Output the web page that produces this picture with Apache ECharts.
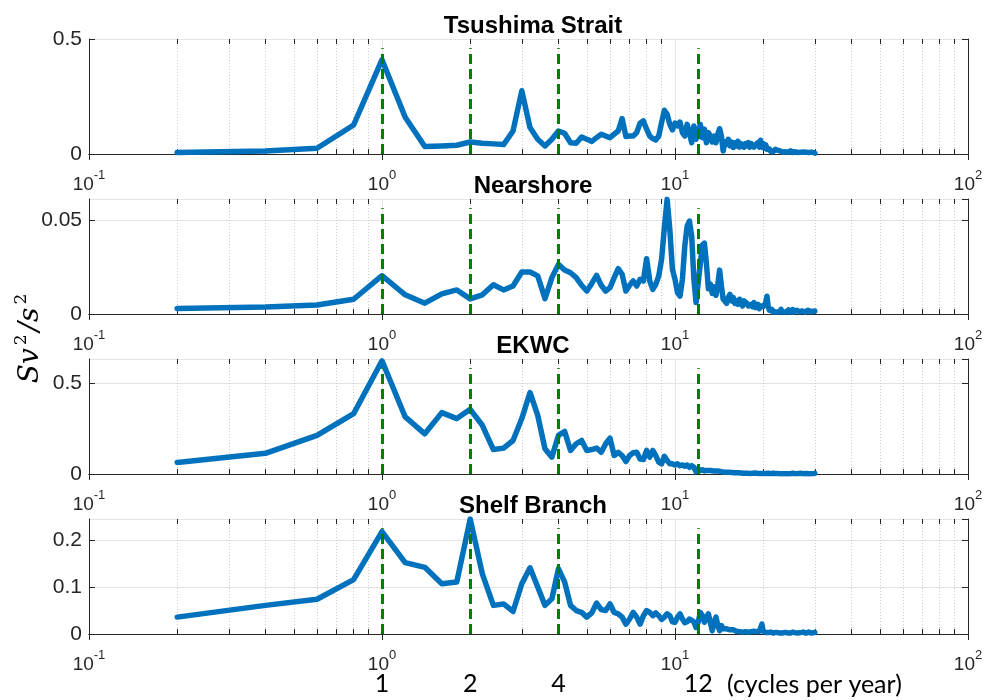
<!DOCTYPE html>
<html>
<head>
<meta charset="utf-8">
<script src="https://cdn.jsdelivr.net/npm/echarts@6/dist/echarts.min.js"></script>
<style>
  html, body { margin: 0; background: #fff; }
  #chart { width: 987px; height: 700px; }
</style>
</head>
<body>
<div id="chart"></div>
<script>
// frequency (cycles per year)
const freq = [
  0.2, 0.4, 0.6, 0.8, 1, 1.2, 1.4, 1.6, 1.8, 2,
  2.2, 2.4, 2.6, 2.8, 3, 3.2, 3.4, 3.6, 3.8, 4,
  4.2, 4.4, 4.6, 4.8, 5, 5.2, 5.4, 5.6, 5.8, 6,
  6.2, 6.4, 6.6, 6.8, 7, 7.2, 7.4, 7.6, 7.8, 8,
  8.2, 8.4, 8.6, 8.8, 9, 9.2, 9.4, 9.6, 9.8, 10,
  10.2, 10.4, 10.6, 10.8, 11, 11.2, 11.4, 11.6, 11.8, 12,
  12.2, 12.4, 12.6, 12.8, 13, 13.2, 13.4, 13.6, 13.8, 14,
  14.2, 14.4, 14.6, 14.8, 15, 15.2, 15.4, 15.6, 15.8, 16,
  16.2, 16.4, 16.6, 16.8, 17, 17.2, 17.4, 17.6, 17.8, 18,
  18.2, 18.4, 18.6, 18.8, 19, 19.2, 19.4, 19.6, 19.8, 20,
  20.2, 20.4, 20.6, 20.8, 21, 21.2, 21.4, 21.6, 21.8, 22,
  22.2, 22.4, 22.6, 22.8, 23, 23.2, 23.4, 23.6, 23.8, 24,
  24.2, 24.4, 24.6, 24.8, 25, 25.2, 25.4, 25.6, 25.8, 26,
  26.2, 26.4, 26.6, 26.8, 27, 27.2, 27.4, 27.6, 27.8, 28,
  28.2, 28.4, 28.6, 28.8, 29, 29.2, 29.4, 29.6, 29.8, 30
];

const tsushima = [
  0.007, 0.013, 0.025, 0.126, 0.41, 0.16, 0.033, 0.035, 0.038, 0.052,
  0.047, 0.044, 0.041, 0.10, 0.275, 0.115, 0.064, 0.035, 0.064, 0.10,
  0.09, 0.049, 0.047, 0.074, 0.064, 0.055, 0.071, 0.086, 0.078, 0.071,
  0.086, 0.10, 0.154, 0.076, 0.078, 0.078, 0.093, 0.134, 0.144, 0.108,
  0.078, 0.067, 0.061, 0.078, 0.137, 0.19, 0.173, 0.129, 0.105, 0.134,
  0.122, 0.139, 0.093, 0.078, 0.129, 0.093, 0.049, 0.122, 0.064, 0.093,
  0.129, 0.071, 0.108, 0.049, 0.093, 0.078, 0.052, 0.078, 0.049, 0.086,
  0.11, 0.078, 0.013, 0.052, 0.042, 0.064, 0.035, 0.052, 0.028, 0.049,
  0.035, 0.055, 0.03, 0.045, 0.05, 0.03, 0.045, 0.035, 0.05, 0.03,
  0.045, 0.052, 0.03, 0.04, 0.035, 0.05, 0.03, 0.06, 0.03, 0.045,
  0.025, 0.04, 0.02, 0.015, 0.022, 0.012, 0.018, 0.01, 0.015, 0.02,
  0.012, 0.016, 0.01, 0.014, 0.012, 0.008, 0.013, 0.01, 0.015, 0.009,
  0.012, 0.008, 0.011, 0.014, 0.009, 0.007, 0.012, 0.01, 0.008, 0.011,
  0.007, 0.01, 0.012, 0.008, 0.006, 0.01, 0.009, 0.007, 0.011, 0.008,
  0.006, 0.009, 0.007, 0.01, 0.006, 0.008, 0.005, 0.007, 0.006, 0.004
];

const nearshore = [
  0.003, 0.0037, 0.0048, 0.0079, 0.0205, 0.0103, 0.0058, 0.0108, 0.0129, 0.0081,
  0.0103, 0.0157, 0.0129, 0.015, 0.0225, 0.0225, 0.0204, 0.0082, 0.0195, 0.0266,
  0.0236, 0.0221, 0.0195, 0.0154, 0.0123, 0.0164, 0.0207, 0.0154, 0.0123, 0.0141,
  0.0195, 0.0243, 0.0213, 0.0123, 0.0154, 0.0177, 0.015, 0.0186, 0.0177, 0.0296,
  0.0177, 0.0132, 0.0159, 0.0204, 0.0293, 0.0463, 0.0614, 0.0454, 0.0239, 0.0186,
  0.0114, 0.0096, 0.0186, 0.0364, 0.0471, 0.0498, 0.0418, 0.0186, 0.0061, 0.0168,
  0.027, 0.037, 0.038, 0.027, 0.0135, 0.016, 0.011, 0.0145, 0.01, 0.016,
  0.0235, 0.015, 0.008, 0.007, 0.0057, 0.0088, 0.0105, 0.007, 0.0088, 0.0057,
  0.007, 0.0052, 0.0079, 0.0057, 0.0043, 0.007, 0.0062, 0.0057, 0.0043, 0.0046,
  0.0052, 0.0039, 0.0061, 0.0034, 0.0043, 0.0052, 0.0029, 0.0043, 0.0035, 0.004,
  0.003, 0.006, 0.0095, 0.004, 0.002, 0.0015, 0.0025, 0.001, 0.002, 0.0012,
  0.0022, 0.001, 0.0018, 0.0012, 0.0025, 0.0012, 0.0018, 0.001, 0.002, 0.0012,
  0.0015, 0.0022, 0.001, 0.0018, 0.0012, 0.0024, 0.001, 0.0016, 0.0012, 0.002,
  0.0011, 0.0018, 0.0012, 0.0022, 0.001, 0.0016, 0.0012, 0.0019, 0.001, 0.0015,
  0.0012, 0.002, 0.001, 0.0016, 0.0012, 0.0018, 0.001, 0.0015, 0.0012, 0.0016
];

const ekwc = [
  0.064, 0.114, 0.213, 0.333, 0.625, 0.315, 0.222, 0.339, 0.306, 0.357,
  0.269, 0.135, 0.143, 0.185, 0.306, 0.45, 0.324, 0.139, 0.093, 0.213,
  0.235, 0.13, 0.167, 0.185, 0.13, 0.135, 0.143, 0.12, 0.167, 0.198,
  0.102, 0.12, 0.102, 0.069, 0.102, 0.117, 0.12, 0.083, 0.08, 0.13,
  0.093, 0.13, 0.102, 0.065, 0.056, 0.098, 0.074, 0.056, 0.056, 0.05,
  0.056, 0.046, 0.05, 0.043, 0.05, 0.037, 0.046, 0.037, 0.013, 0.028,
  0.019, 0.024, 0.017, 0.02, 0.013, 0.019, 0.009, 0.017, 0.013, 0.017,
  0.009, 0.013, 0.006, 0.01, 0.007, 0.009, 0.006, 0.008, 0.005, 0.007,
  0.005, 0.007, 0.004, 0.006, 0.005, 0.004, 0.006, 0.004, 0.005, 0.003,
  0.005, 0.004, 0.003, 0.005, 0.004, 0.003, 0.004, 0.003, 0.005, 0.003,
  0.004, 0.003, 0.002, 0.004, 0.003, 0.002, 0.003, 0.004, 0.002, 0.003,
  0.002, 0.003, 0.004, 0.002, 0.003, 0.002, 0.003, 0.002, 0.004, 0.002,
  0.003, 0.002, 0.003, 0.002, 0.003, 0.004, 0.002, 0.003, 0.002, 0.003,
  0.002, 0.003, 0.002, 0.004, 0.002, 0.003, 0.002, 0.003, 0.002, 0.003,
  0.002, 0.003, 0.002, 0.003, 0.004, 0.002, 0.003, 0.002, 0.003, 0.004
];

const shelf = [
  0.036, 0.061, 0.074, 0.116, 0.218, 0.152, 0.142, 0.107, 0.111, 0.245,
  0.128, 0.061, 0.064, 0.048, 0.107, 0.141, 0.1, 0.061, 0.075, 0.139,
  0.111, 0.061, 0.05, 0.046, 0.036, 0.045, 0.066, 0.052, 0.05, 0.064,
  0.046, 0.043, 0.036, 0.021, 0.032, 0.046, 0.036, 0.021, 0.039, 0.05,
  0.046, 0.039, 0.045, 0.039, 0.031, 0.036, 0.043, 0.039, 0.026, 0.025,
  0.036, 0.043, 0.032, 0.024, 0.026, 0.032, 0.029, 0.026, 0.014, 0.025,
  0.046, 0.039, 0.025, 0.036, 0.043, 0.025, 0.007, 0.025, 0.036, 0.018,
  0.007, 0.018, 0.011, 0.007, 0.011, 0.007, 0.009, 0.005, 0.009, 0.007,
  0.006, 0.008, 0.005, 0.007, 0.004, 0.008, 0.005, 0.006, 0.004, 0.007,
  0.005, 0.004, 0.006, 0.004, 0.005, 0.007, 0.006, 0.01, 0.021, 0.006,
  0.004, 0.003, 0.005, 0.003, 0.002, 0.004, 0.003, 0.002, 0.004, 0.003,
  0.002, 0.003, 0.004, 0.002, 0.003, 0.002, 0.004, 0.003, 0.002, 0.003,
  0.004, 0.002, 0.003, 0.002, 0.003, 0.004, 0.002, 0.003, 0.002, 0.003,
  0.002, 0.004, 0.002, 0.003, 0.002, 0.003, 0.004, 0.002, 0.003, 0.002,
  0.003, 0.002, 0.004, 0.002, 0.003, 0.002, 0.003, 0.002, 0.003, 0.003
];

const panelTitles = ["Tsushima Strait", "Nearshore", "EKWC", "Shelf Branch"];
const panelSeries = [tsushima, nearshore, ekwc, shelf];
const yMax = [0.5, 0.0616, 0.635, 0.245];
const yInterval = [0.5, 0.05, 0.5, 0.1];

// green reference periods (cycles per year)
const cycleMarks = [1, 2, 4, 12];
// minor log ticks
const minorTickValues = [
  0.2, 0.3, 0.4, 0.5, 0.6, 0.7, 0.8, 0.9,
  2, 3, 4, 5, 6, 7, 8, 9,
  20, 30, 40, 50, 60, 70, 80, 90
];

const AXIS = "#262626";
const FONT = "'Liberation Sans', Arial, sans-serif";
const panelTops = [39, 199, 359, 519];
const PANEL_H = 115;

const chart = echarts.init(document.getElementById("chart"), null, { renderer: "canvas" });

const grid = [];
const xAxis = [];
const yAxis = [];
const series = [];
const title = [];

panelTitles.forEach((name, i) => {
  grid.push({ left: 89, right: 19, top: panelTops[i], height: PANEL_H });

  title.push({
    text: name,
    left: 528,
    top: panelTops[i] - 30,
    textAlign: "center",
    textStyle: { fontFamily: FONT, fontSize: 24, fontWeight: "bold", color: "#000" },
  });

  const xBase = { gridIndex: i, type: "log", logBase: 10, min: 0.1, max: 100 };
  const hidden = { show: false };

  // main bottom axis with labels
  xAxis.push({
    ...xBase,
    position: "bottom",
    axisLine: { show: true, lineStyle: { color: AXIS, width: 1 } },
    axisTick: { show: true, inside: true, length: 6, lineStyle: { color: AXIS } },
    axisLabel: {
      margin: 15,
      color: AXIS,
      fontFamily: FONT,
      formatter: (v) => "{b|10}{e|" + Math.round(Math.log10(v)) + "}",
      rich: {
        b: { fontSize: 19, fontFamily: FONT, color: AXIS, lineHeight: 25, verticalAlign: "bottom" },
        e: { fontSize: 13, fontFamily: FONT, color: AXIS, lineHeight: 13, verticalAlign: "top" },
      },
    },
    splitLine: { show: true, lineStyle: { color: "#e4e4e4", width: 1 } },
  });
  // top box edge
  xAxis.push({
    ...xBase,
    position: "top",
    axisLine: { show: true, lineStyle: { color: AXIS, width: 1 } },
    axisTick: { show: true, inside: true, length: 6, lineStyle: { color: AXIS } },
    axisLabel: hidden,
    splitLine: hidden,
  });
  // minor ticks + dotted minor grid
  xAxis.push({
    ...xBase,
    position: "bottom",
    axisLine: hidden,
    axisTick: { show: true, inside: true, length: 5, customValues: minorTickValues, lineStyle: { color: AXIS } },
    axisLabel: hidden,
    splitLine: { show: true, lineStyle: { color: "#cccccc", type: [1, 2], width: 1 } },
  });
  xAxis.push({
    ...xBase,
    position: "top",
    axisLine: hidden,
    axisTick: { show: true, inside: true, length: 5, customValues: minorTickValues, lineStyle: { color: AXIS } },
    axisLabel: hidden,
    splitLine: hidden,
  });

  const yBase = { gridIndex: i, type: "value", min: 0, max: yMax[i], interval: yInterval[i] };
  yAxis.push({
    ...yBase,
    position: "left",
    axisLine: { show: true, lineStyle: { color: AXIS, width: 1 } },
    axisTick: { show: true, inside: true, length: 6, lineStyle: { color: AXIS } },
    axisLabel: { color: AXIS, fontFamily: FONT, fontSize: 21, margin: 7, showMaxLabel: i === 0 },
    splitLine: { show: true, lineStyle: { color: "#e4e4e4", width: 1 } },
  });
  yAxis.push({
    ...yBase,
    position: "right",
    axisLine: { show: true, lineStyle: { color: AXIS, width: 1 } },
    axisTick: { show: true, inside: true, length: 6, lineStyle: { color: AXIS } },
    axisLabel: hidden,
    splitLine: hidden,
  });

  const values = panelSeries[i];
  series.push({
    name: name,
    type: "line",
    xAxisIndex: 4 * i,
    yAxisIndex: 2 * i,
    data: freq.map((f, k) => [f, values[k]]),
    showSymbol: false,
    silent: true,
    z: 3,
    lineStyle: { color: "#0072BD", width: 5.5, join: "round", cap: "round" },
    markLine: {
      silent: true,
      symbol: "none",
      label: { show: false },
      lineStyle: { color: "#008000", type: [10, 5], width: 3, opacity: 1 },
      data: cycleMarks.map((c) => [{ coord: [c, 0] }, { coord: [c, yMax[i] * 0.92] }]),
    },
  });
});

// cycle labels under the last panel
xAxis.push({
  gridIndex: 3,
  type: "log",
  logBase: 10,
  min: 0.1,
  max: 100,
  position: "bottom",
  offset: 36,
  axisLine: { show: false },
  axisTick: { show: false },
  splitLine: { show: false },
  axisLabel: {
    customValues: cycleMarks,
    color: "#000",
    fontFamily: "Lato, 'Open Sans', sans-serif",
    fontSize: 25,
    margin: 1,
    formatter: (v) => String(Math.round(v)),
  },
});

const option = {
  animation: false,
  backgroundColor: "#fff",
  title,
  grid,
  xAxis,
  yAxis,
  series,
  graphic: [
    {
      type: "text",
      x: 29,
      y: 340,
      rotation: Math.PI / 2,
      style: {
        text: "{i|Sv}{s|2}{i|/s}{s|2}",
        textAlign: "center",
        textVerticalAlign: "middle",
        rich: {
          i: { fontFamily: "'DejaVu Serif', serif", fontStyle: "italic", fontSize: 28, fill: "#000", lineHeight: 32, verticalAlign: "bottom", padding: [0, 3, 0, 3] },
          s: { fontFamily: "'DejaVu Serif', serif", fontSize: 17, fill: "#000", lineHeight: 17, verticalAlign: "top" },
        },
      },
    },
    {
      type: "text",
      left: 727,
      top: 672,
      style: {
        text: "(cycles per year)",
        font: "25px Lato, 'Open Sans', sans-serif",
        fill: "#000",
      },
    },
  ],
};

chart.setOption(option);
window.addEventListener("resize", () => chart.resize());
</script>
</body>
</html>
